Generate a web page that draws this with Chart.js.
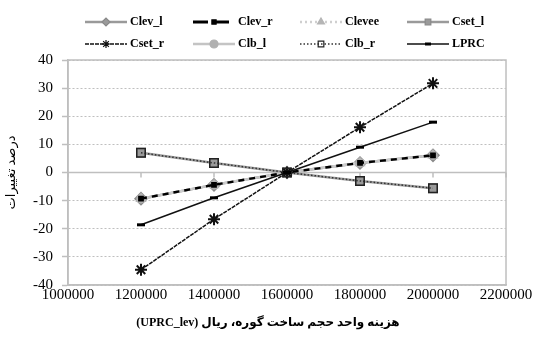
<!DOCTYPE html>
<html>
<head>
<meta charset="utf-8">
<script src="https://cdn.jsdelivr.net/npm/chart.js@4/dist/chart.umd.min.js"></script>
<style>
  body { margin: 0; background: #fff; }
</style>
</head>
<body>
<canvas id="grafico" width="534" height="341"></canvas>
<script>
// datos
const costos = [1200000, 1400000, 1600000, 1800000, 2000000];
const clevL = [-9.3, -4.4, 0, 3.4, 6.1];
const clevR = [-9.3, -4.4, 0, 3.4, 6.1];
const clevee = [-9.3, -4.4, 0, 3.4, 6.1];
const csetL = [7.0, 3.4, 0, -3.0, -5.6];
const csetR = [-34.6, -16.6, 0, 16.1, 31.7];
const clbL = [-9.3, -4.4, 0, 3.4, 6.1];
const clbR = [7.0, 3.4, 0, -3.0, -5.6];
const lprc = [-18.6, -9.0, 0, 9.0, 17.9];
const ticksY = [-40, -30, -20, -10, 0, 10, 20, 30, 40];
const tituloX = '(UPRC_lev) هزینه واحد حجم ساخت گوره، ریال';
const tituloY = 'درصد تغییرات';

const fuente = "'Liberation Serif', 'Times New Roman', 'DejaVu Sans', serif";
const gris = '#bfbfbf';

function puntos(valores) {
  return costos.map((c, i) => ({ x: c, y: valores[i] }));
}

// orden: numero mas bajo se dibuja encima
const series = [
  { label: 'Clev_l', data: clevL, color: '#9a9a9a', width: 2.5, dash: [], style: 'rectRot', radius: 6, fill: '#9a9a9a', pborder: '#8a8a8a', orden: 8 },
  { label: 'Clev_r', data: clevR, color: '#000', width: 2.4, dash: [6, 5], style: 'rect', radius: 3, fill: '#000', pborder: '#000', orden: 3.5 },
  { label: 'Clevee', data: clevee, color: '#cfcfcf', width: 2.5, dash: [2, 3], style: 'triangle', radius: 5, fill: '#b5b5b5', pborder: '#b5b5b5', orden: 4 },
  { label: 'Cset_l', data: csetL, color: '#9a9a9a', width: 2.5, dash: [], style: 'rect', radius: 6, fill: '#9a9a9a', pborder: '#8a8a8a', orden: 7 },
  { label: 'Cset_r', data: csetR, color: '#111', width: 1.5, dash: [4, 1], style: 'star', radius: 6, fill: '#555', pborder: '#111', orden: 3 },
  { label: 'Clb_l', data: clbL, color: '#c4c4c4', width: 2.5, dash: [], style: 'circle', radius: 4, fill: '#b0b0b0', pborder: '#b0b0b0', orden: 5 },
  { label: 'Clb_r', data: clbR, color: '#333', width: 1.5, dash: [1.5, 2], style: 'rect', radius: 6, fill: 'rgba(0,0,0,0)', pborder: '#222', orden: 2 },
  { label: 'LPRC', data: lprc, color: '#111', width: 1.5, dash: [], style: 'line', radius: 4, fill: '#000', pborder: '#000', orden: 1 }
];

const datasets = series.map(s => ({
  label: s.label,
  data: puntos(s.data),
  borderColor: s.color,
  borderWidth: s.width,
  borderDash: s.dash,
  pointStyle: s.style,
  pointRadius: s.radius,
  pointBackgroundColor: s.fill,
  pointBorderColor: s.pborder,
  pointBorderWidth: s.style === 'line' ? 3 : (s.style === 'star' ? 2 : 1.5),
  tension: 0,
  fill: false,
  order: s.orden
}));

// marco, linea cero, titulo x y leyenda propia
const decoraciones = {
  id: 'decoraciones',
  beforeDatasetsDraw(chart) {
    const { ctx, chartArea: a, scales } = chart;
    const y0 = scales.y.getPixelForValue(0);
    ctx.save();
    ctx.strokeStyle = gris;
    ctx.lineWidth = 1.5;
    ctx.setLineDash([]);
    ctx.strokeRect(a.left, a.top, a.right - a.left, a.bottom - a.top);
    ctx.beginPath();
    ctx.moveTo(a.left, y0);
    ctx.lineTo(a.right, y0);
    scales.x.ticks.forEach(t => {
      const px = scales.x.getPixelForValue(t.value);
      ctx.moveTo(px, y0);
      ctx.lineTo(px, y0 + 5);
    });
    ctx.stroke();
    ctx.restore();
  },
  afterDraw(chart) {
    const { ctx } = chart;
    const columnas = [85, 193, 300, 407];
    const filas = [22, 44];
    ctx.save();
    series.forEach((s, i) => {
      const x = columnas[i % 4];
      const y = filas[Math.floor(i / 4)];
      ctx.strokeStyle = s.color;
      ctx.lineWidth = s.label === 'Clev_r' ? 3 : s.width;
      ctx.setLineDash(s.label === 'Clev_r' ? [15, 6] : s.dash);
      ctx.beginPath();
      ctx.moveTo(x, y);
      ctx.lineTo(x + 42, y);
      ctx.stroke();
      ctx.setLineDash([]);
      ctx.fillStyle = s.fill;
      ctx.strokeStyle = s.pborder;
      ctx.lineWidth = s.style === 'line' ? 3 : 1.2;
      Chart.helpers.drawPoint(ctx, {
        pointStyle: s.style,
        radius: s.style === 'line' ? 3 : Math.min(s.radius, 4),
        rotation: 0,
        borderWidth: ctx.lineWidth
      }, x + 21, y);
      ctx.fillStyle = '#000';
      ctx.font = "bold 12px " + fuente;
      ctx.textBaseline = 'middle';
      ctx.textAlign = 'left';
      ctx.fillText(s.label, x + 45, y);
    });
    ctx.font = "bold 12px " + fuente;
    ctx.textAlign = 'center';
    ctx.fillText(tituloX, 268, 323);
    ctx.restore();
  }
};

const ctx = document.getElementById('grafico').getContext('2d');
const chart = new Chart(ctx, {
  type: 'line',
  data: { datasets: datasets },
  options: {
    responsive: false,
    animation: false,
    layout: { padding: { top: 60, right: 28, left: 0, bottom: 0 } },
    plugins: {
      legend: { display: false },
      tooltip: { enabled: false }
    },
    scales: {
      x: {
        type: 'linear',
        min: 1000000,
        max: 2200000,
        afterFit: s => { s.height = 56; },
        ticks: {
          stepSize: 200000,
          color: '#000',
          padding: 1,
          maxRotation: 0,
          font: { family: fuente, size: 15 },
          callback: v => String(v)
        },
        grid: { display: false, drawTicks: false },
        border: { display: true, color: gris, width: 1.5 }
      },
      y: {
        min: -40,
        max: 40,
        afterFit: s => { s.width = 68; },
        afterBuildTicks: s => { s.ticks = ticksY.map(v => ({ value: v })); },
        ticks: {
          color: '#000',
          padding: 9,
          font: { family: fuente, size: 15 }
        },
        grid: { color: gris, lineWidth: 1, tickLength: 6, tickColor: gris, tickWidth: 1.5 },
        border: { display: true, color: gris, width: 1.5, dash: [2, 2] },
        title: {
          display: true,
          text: tituloY,
          color: '#000',
          font: { family: fuente, size: 13 },
          padding: { top: 4, bottom: 0 }
        }
      }
    }
  },
  plugins: [decoraciones]
});
</script>
</body>
</html>
